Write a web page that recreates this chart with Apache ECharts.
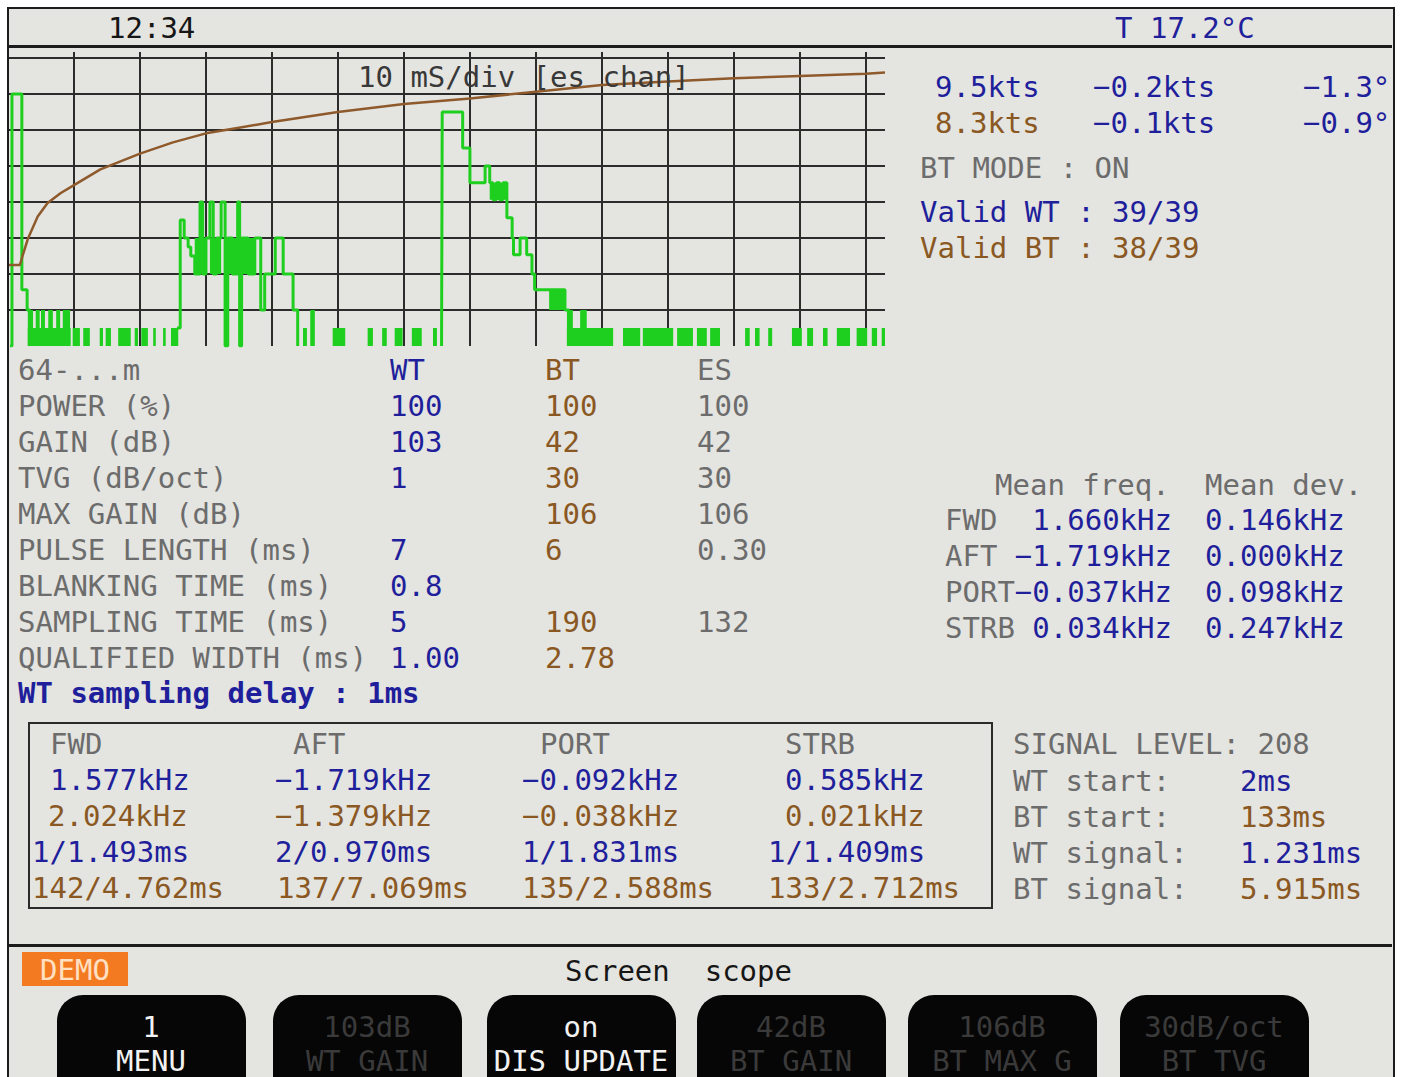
<!DOCTYPE html>
<html><head><meta charset="utf-8">
<script src="https://cdn.jsdelivr.net/npm/echarts@6/dist/echarts.min.js"></script>
<style>html,body{margin:0;padding:0;background:#fff;} #c{width:1405px;height:1077px;}</style>
</head><body><div id="c"></div>
<script>
// ---------------- DATA ----------------
// Scope: time in ms (10 ms/div), level 0..256 (32 per div)
const echoTrace = [
  [0.3,0],[0.6,224],[2.1,50],[2.9,32],[3.3,0],[3.4,null],
  [25.6,16],[26.1,112],[26.7,96],[27.3,88],[27.7,80],[28.3,64],[29.1,128],[29.5,64],[30.0,96],[30.6,128],[31.1,64],[31.6,96],[32.3,128],[32.9,0],[33.3,96],[34.0,64],[34.8,128],[35.1,0],[35.4,96],[36.4,64],[37.4,96],[38.3,32],[38.9,64],[40.5,96],[41.7,64],[43.2,32],[43.9,0],[44.0,null],
  [65.7,0],[65.8,208],[68.9,176],[70.0,145],[72.3,160],[73.0,145],[73.5,130],[74.0,145],[74.5,130],[75.0,145],[75.6,114],[76.4,96],[76.6,81],[77.6,96],[78.6,81],[79.4,64],[79.8,50],[84.4,32],[85.0,0],[85.1,null]
];
// dense toggling regions: [t0, t1, low, high]
const noiseBlocks = [
  [3.0,9.5,0,16],[3.0,3.8,0,32],[4.2,4.8,0,32],[5.0,5.6,0,32],[6.1,6.8,0,32],[7.3,7.9,0,32],[8.3,9.4,0,32],
  [9.8,10.9,0,16],[11.4,12.4,0,16],[13.9,14.4,0,16],[14.8,15.6,0,16],[16.7,18.6,0,16],[19.2,19.7,0,16],[20.2,21.2,0,16],[22.0,22.4,0,16],[23.5,23.9,0,16],[24.7,25.8,0,16],
  [28.3,30.0,64,96],[30.6,32.3,64,96],[33.3,34.8,64,96],[35.4,37.4,64,96],
  [44.7,45.3,0,16],[45.8,46.5,0,32],[49.2,51.1,0,16],[54.5,55.3,0,16],[56.7,57.4,0,16],[58.6,59.8,0,16],[61.2,62.7,0,16],[64.4,65.0,0,16],
  [73.0,75.6,130,145],[82.0,84.4,32,50],
  [84.7,91.7,0,16],[84.7,85.6,0,32],[86.7,87.7,0,32],[93.2,95.8,0,16],[96.2,100.8,0,16],[101.4,103.8,0,16],[104.4,105.9,0,16],[106.4,107.9,0,16],
  [111.7,112.4,0,16],[113.2,113.9,0,16],[115.2,115.8,0,16],[118.8,120.3,0,16],[121.1,122.0,0,16],[123.5,124.2,0,16],[125.6,127.6,0,16],[128.6,130.2,0,16],[130.9,131.7,0,16],[132.4,132.9,0,16]
];
const tvgCurve = [
  [0,72],[1.8,72],[2.2,80],[3.0,95],[4.5,115],[6,127],[8,136],[10,143],[14,157],[20,171],[25,181],[30,189],[35,194],
  [40,199],[50,208],[60,215],[70,220],[80,226],[90,232],[100,235],[110,238],[120,240],[130,242],[132.9,243]
];
const scopeTitle = '10 mS/div [es chan]';

const clockText = '12:34';
const tempText = 'T 17.2°C';

const speedWT = ['9.5kts','−0.2kts','−1.3°'];
const speedBT = ['8.3kts','−0.1kts','−0.9°'];
const btModeText = 'BT MODE : ON';
const validWT = 'Valid WT : 39/39';
const validBT = 'Valid BT : 38/39';

const tableLabels = ['64-...m','POWER (%)','GAIN (dB)','TVG (dB/oct)','MAX GAIN (dB)','PULSE LENGTH (ms)','BLANKING TIME (ms)','SAMPLING TIME (ms)','QUALIFIED WIDTH (ms)'];
const wtValues = ['WT','100','103','1','','7','0.8','5','1.00'];
const btValues = ['BT','100','42','30','106','6','','190','2.78'];
const esValues = ['ES','100','42','30','106','0.30','','132',''];
const delayText = 'WT sampling delay : 1ms';

const freqLabels = ['FWD','AFT','PORT','STRB'];
const meanFreq = ['1.660kHz','−1.719kHz','−0.037kHz','0.034kHz'];
const meanDev = ['0.146kHz','0.000kHz','0.098kHz','0.247kHz'];

const beamNames = ['FWD','AFT','PORT','STRB'];
const wtFreq = ['1.577kHz','−1.719kHz','−0.092kHz','0.585kHz'];
const btFreq = ['2.024kHz','−1.379kHz','−0.038kHz','0.021kHz'];
const wtTiming = ['1/1.493ms','2/0.970ms','1/1.831ms','1/1.409ms'];
const btTiming = ['142/4.762ms','137/7.069ms','135/2.588ms','133/2.712ms'];

const signalLevelText = 'SIGNAL LEVEL: 208';
const signalLabels = ['WT start:','BT start:','WT signal:','BT signal:'];
const signalValues = ['2ms','133ms','1.231ms','5.915ms'];

const softTop = ['1','103dB','on','42dB','106dB','30dB/oct'];
const softBottom = ['MENU','WT GAIN','DIS UPDATE','BT GAIN','BT MAX G','BT TVG'];
const softActive = [true,false,true,false,false,false];

// ---------------- LAYOUT / STYLE ----------------
const COL = {gray:'#6c6c6c', blue:'#1f1f9c', brown:'#8a5822', dark:'#161616', grid:'#2c2c2c', green:'#1fcf1f', tvg:'#8e5a2c'};
const FONT = '"DejaVu Sans Mono", monospace';
function txt(text, x, y, fill, opt) {
  opt = opt || {};
  const size = opt.size || 29;
  const weight = opt.weight || 'normal';
  const align = opt.align || 'left';
  return {type:'text', x:x, y:y, z:50,
    style:{text:text, fill:fill, font: weight + ' ' + size + 'px ' + FONT,
      textAlign:align, textVerticalAlign:'middle', align:align, verticalAlign:'middle'}};
}
function line(x1,y1,x2,y2,w,c){return {type:'line', z:40, shape:{x1,y1,x2,y2}, style:{stroke:c||'#222', lineWidth:w}};}
function rect(x,y,w,h,fill,opt){opt=opt||{};return {type:'rect', z:opt.z||30, shape:{x,y,width:w,height:h,r:opt.r||0}, style:{fill:fill, stroke:opt.stroke||null, lineWidth:opt.lw||0}};}

const g = [];
// white margins & frame
g.push(rect(0,0,1405,7,'#ffffff',{z:60}));
g.push(rect(0,0,7,1077,'#ffffff',{z:60}));
g.push(rect(1395,0,10,1077,'#ffffff',{z:60}));
g.push(line(7,8,1395,8,2,'#1c1c1c'));
g.push(line(8,8,8,1077,2,'#1c1c1c'));
g.push(line(1394,8,1394,1077,2,'#1c1c1c'));
g.push(line(8,46.5,1392,46.5,3,'#1c1c1c'));
g.push(line(8,945.5,1392,945.5,3,'#1c1c1c'));

// header
g.push(txt(clockText,108,28,COL.dark));
g.push(txt(tempText,1115,28,COL.blue));
// scope title
g.push(txt(scopeTitle,358,77,'#383838'));

// speed panel
const spX = [935,1093,1303];
speedWT.forEach((s,i)=>g.push(txt(s,spX[i],87,COL.blue)));
speedBT.forEach((s,i)=>g.push(txt(s,spX[i],123,i===0?COL.brown:COL.blue)));
g.push(txt(btModeText,920,168,COL.gray));
g.push(txt(validWT,920,212,COL.blue));
g.push(txt(validBT,920,248,COL.brown));

// settings table
const colX = [18,390,545,697];
tableLabels.forEach((l,i)=>{
  const y = 370 + 36*i;
  g.push(txt(l,colX[0],y,COL.gray));
  if (wtValues[i]) g.push(txt(wtValues[i],colX[1],y,COL.blue));
  if (btValues[i]) g.push(txt(btValues[i],colX[2],y,COL.brown));
  if (esValues[i]) g.push(txt(esValues[i],colX[3],y,COL.gray));
});
g.push(txt(delayText,18,693,COL.blue,{weight:'bold'}));

// mean frequency panel
g.push(txt('Mean freq.',995,485,COL.gray));
g.push(txt('Mean dev.',1205,485,COL.gray));
freqLabels.forEach((l,i)=>{
  const y = 520 + 36*i;
  g.push(txt(l,945,y,COL.gray));
  g.push(txt(meanFreq[i],1172,y,COL.blue,{align:'right'}));
  g.push(txt(meanDev[i],1205,y,COL.blue));
});

// beam box
g.push({type:'rect', z:35, shape:{x:29,y:723,width:963,height:185}, style:{fill:'none', stroke:'#2a2a2a', lineWidth:2}});
const hdrX=[50,293,540,785], f1X=[50,275,522,785], f2X=[48,275,522,785], t1X=[32,275,522,768], t2X=[32,277,522,768];
beamNames.forEach((b,i)=>{
  g.push(txt(b,hdrX[i],744,COL.gray));
  g.push(txt(wtFreq[i],f1X[i],780,COL.blue));
  g.push(txt(btFreq[i],f2X[i],816,COL.brown));
  g.push(txt(wtTiming[i],t1X[i],852,COL.blue));
  g.push(txt(btTiming[i],t2X[i],888,COL.brown));
});

// signal panel
g.push(txt(signalLevelText,1013,744,COL.gray));
signalLabels.forEach((l,i)=>{
  const y = 781 + 36*i;
  g.push(txt(l,1013,y,COL.gray));
  g.push(txt(signalValues[i],1240,y,i%2===0?COL.blue:COL.brown));
});

// bottom bar
g.push(rect(22,952,106,34,'#f47a22',{z:35}));
g.push(txt('DEMO',75,970,'#ffe0c2',{align:'center'}));
g.push(txt('Screen  scope',565,971,COL.dark));
const keyX = [57,273,487,697,908,1120];
softTop.forEach((t,i)=>{
  g.push(rect(keyX[i],995,189,95,'#060606',{r:[26,26,0,0],z:35}));
  const c = softActive[i] ? '#f2f2f2' : '#3a3a3a';
  const cx = keyX[i] + 94;
  g.push(txt(t,cx,1027,c,{align:'center'}));
  g.push(txt(softBottom[i],cx,1061,c,{align:'center'}));
});

// ---------------- CHART ----------------
const chart = echarts.init(document.getElementById('c'), null, {renderer:'svg'});
chart.setOption({
  animation:false,
  backgroundColor:'#e4e4e0',
  grid:{left:8, top:52, width:877, height:294, containLabel:false},
  xAxis:{type:'value', min:0, max:132.9, interval:10,
    axisLine:{show:false}, axisTick:{show:false}, axisLabel:{show:false},
    splitLine:{show:true, showMinLine:false, showMaxLine:false, lineStyle:{color:COL.grid, width:2}}},
  yAxis:{type:'value', min:0, max:261.3, interval:32,
    axisLine:{show:false}, axisTick:{show:false}, axisLabel:{show:false},
    splitLine:{show:true, showMinLine:false, showMaxLine:false, lineStyle:{color:COL.grid, width:2}}},
  series:[
    {type:'custom', data:noiseBlocks, encode:{x:[0,1], y:[2,3]}, z:3,
      renderItem:function(params, api){
        const p0 = api.coord([api.value(0), api.value(3)]);
        const p1 = api.coord([api.value(1), api.value(2)]);
        return {type:'rect', shape:{x:p0[0], y:p0[1], width:p1[0]-p0[0], height:p1[1]-p0[1]}, style:{fill:COL.green}};
      }},
    {type:'line', data:echoTrace, step:'end', showSymbol:false, connectNulls:false, z:4,
      lineStyle:{color:COL.green, width:3}},
    {type:'line', data:tvgCurve, showSymbol:false, z:5, lineStyle:{color:COL.tvg, width:2.5}}
  ],
  graphic:{elements:g}
});
</script></body></html>
